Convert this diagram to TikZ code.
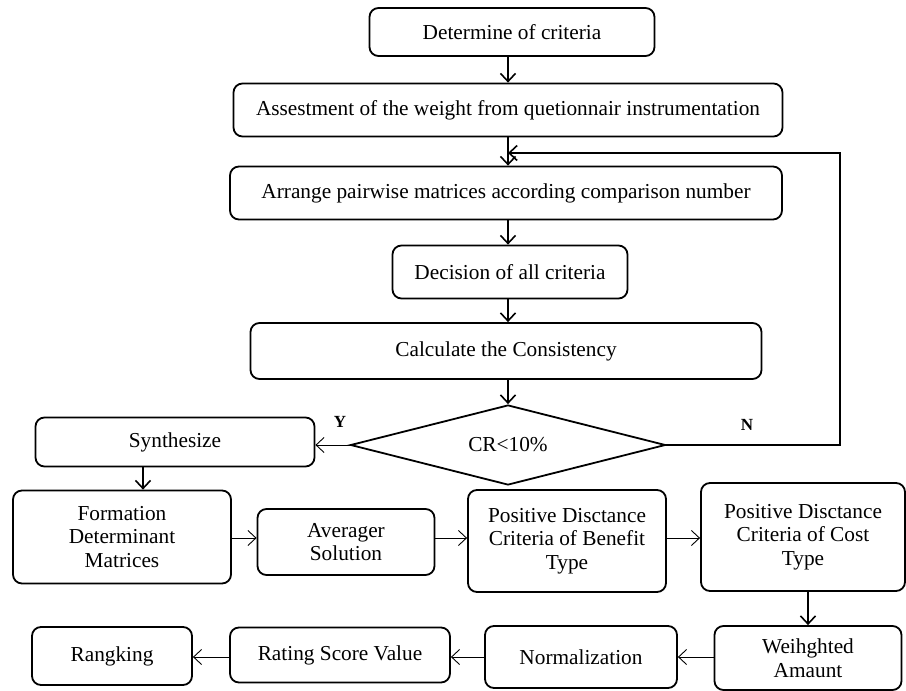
\documentclass[tikz,border=0pt]{standalone}
\usepackage{fontspec}
\setmainfont{Liberation Serif}
\usetikzlibrary{shapes.geometric,arrows.meta}
\begin{document}
\begin{tikzpicture}[x=1pt,y=-1pt,
 box/.style={draw,line width=1.8pt,rounded corners=9pt,align=center,inner sep=0pt,font=\fontsize{21.3}{23.5}\selectfont},
 vline/.style={line width=1.8pt,-{Straight Barb[length=8pt,width=15pt,line width=1.6pt]}},
 hline/.style={line width=0.9pt,-{Straight Barb[length=8pt,width=15pt,line width=0.9pt]}},
 lbl/.style={font=\fontsize{17}{19}\selectfont\bfseries}]
\useasboundingbox (0,0) rectangle (906,691);
\node[box,minimum width=285pt,minimum height=48pt] (d1) at (512,32) {Determine of criteria};
\node[box,minimum width=549pt,minimum height=53pt] (d2) at (508,110) {Assestment of the weight from quetionnair instrumentation};
\node[box,minimum width=552pt,minimum height=53pt] (d3) at (506,193) {Arrange pairwise matrices according comparison number};
\node[box,minimum width=235pt,minimum height=53pt] (d4) at (510,272) {Decision of all criteria};
\node[box,minimum width=511pt,minimum height=56pt] (d5) at (506,351) {Calculate the Consistency};
\node[draw,diamond,line width=1.8pt,aspect=3.9,minimum width=315pt,minimum height=80pt,inner sep=0pt,font=\fontsize{21.3}{23.5}\selectfont] (dia) at (508,445) {CR<10\%};
\node[box,minimum width=279pt,minimum height=49pt] (syn) at (175,442) {Synthesize};
\node[box,minimum width=218pt,minimum height=93pt] (form) at (122,537) {Formation\\Determinant\\Matrices};
\node[box,minimum width=177pt,minimum height=66pt] (ave) at (346,542) {Averager\\Solution};
\node[box,minimum width=198pt,minimum height=102pt] (ben) at (567,541) {Positive Disctance\\Criteria of Benefit\\Type};
\node[box,minimum width=204pt,minimum height=108pt] (cost) at (803,537) {Positive Disctance\\Criteria of Cost\\Type};
\node[box,minimum width=187pt,minimum height=64pt] (wei) at (808,658) {Weihghted\\Amaunt};
\node[box,minimum width=192pt,minimum height=62pt] (norm) at (581,657) {Normalization};
\node[box,minimum width=220pt,minimum height=55pt] (rate) at (340,655) {Rating Score Value};
\node[box,minimum width=160pt,minimum height=58pt] (rank) at (112,656) {Rangking};
\node[lbl] (ly) at (340,422) {Y};
\node[lbl] (ln) at (747,425) {N};
\coordinate (cx) at (508,0);
\coordinate (sx) at (143,0);
\coordinate (wx) at (808,0);
\coordinate (ry) at (0,538);
\coordinate (by) at (0,657);
\coordinate (loopc) at (840,153);
\draw[vline] (d1.south -| cx) -- (d2.north -| cx);
\draw[vline] (d2.south -| cx) -- (d3.north -| cx);
\draw[vline] (d3.south -| cx) -- (d4.north -| cx);
\draw[vline] (d4.south -| cx) -- (d5.north -| cx);
\draw[vline] (d5.south -| cx) -- (dia.north);
\draw[vline] (dia.east) -| (loopc) -- (loopc -| cx);
\draw[hline] (dia.west) -- (syn.east |- dia.west);
\draw[vline] (syn.south -| sx) -- (form.north -| sx);
\draw[hline] (form.east |- ry) -- (ave.west |- ry);
\draw[hline] (ave.east |- ry) -- (ben.west |- ry);
\draw[hline] (ben.east |- ry) -- (cost.west |- ry);
\draw[vline] (cost.south -| wx) -- (wei.north -| wx);
\draw[hline] (wei.west |- by) -- (norm.east |- by);
\draw[hline] (norm.west |- by) -- (rate.east |- by);
\draw[hline] (rate.west |- by) -- (rank.east |- by);
\end{tikzpicture}
\end{document}
